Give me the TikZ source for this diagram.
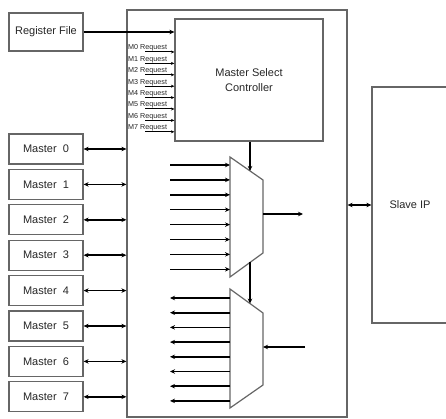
\documentclass[tikz,border=0pt]{standalone}
\usepackage{fontspec}
\setmainfont{Liberation Sans}
\usetikzlibrary{positioning,arrows.meta,calc}

\begin{document}
\begin{tikzpicture}[
    x=1pt, y=-1pt,
    font=\fontsize{11}{13}\selectfont,
    box/.style={draw, black!60, line width=1.2pt, text=black!85, align=center, inner sep=2pt},
    mbox/.style={box, minimum width=74pt, minimum height=30pt},
    bus/.style={{Stealth[length=5pt,width=4.5pt]}-{Stealth[length=5pt,width=4.5pt]}, line width=1.6pt},
    sig/.style={-{Stealth[length=5pt,width=4.5pt]}, line width=1.6pt},
    req/.style={-{Stealth[length=3.5pt,width=3pt]}, line width=1pt},
    mux/.style={draw, black!60, line width=1.2pt, fill=white},
    rq/.style={anchor=south west, inner sep=0.5pt, text=black!85,
               font=\fontsize{7.2}{8}\selectfont},
  ]
  \clip (0,0) rectangle (446,419);

  % --- Interconnect frame and slave ---
  \node[box, minimum width=220pt, minimum height=407pt] (fab) at (237,213.5) {};
  \node[box, minimum width=76pt, minimum height=236pt] (slave) at (410,205) {Slave IP};
  \draw[bus] (slave.west) -- (slave.west -| fab.east);

  % --- Register file and select controller ---
  \node[box, minimum width=74pt, minimum height=38pt] (reg) at (46,32) {Register File};
  \node[box, minimum width=148pt, minimum height=122pt] (ctrl) at (249,80)
    {Master Select\\[2pt]Controller};
  \draw[sig] (reg.east) -- (reg.east -| ctrl.west);

  \foreach \i in {0,...,7} {
    \coordinate (r\i) at (145,52+11.4*\i);
    \node[rq] (rl\i) at (127.5,52+11.4*\i) {M\i\ Request};
    \draw[req] (r\i) -- (r\i -| ctrl.west);
  }

  % --- Masters ---
  \foreach \i in {0,...,7} {
    \node[mbox] (m\i) at (46,149+35.4*\i) {Master\ \ \i};
    \draw[bus] (m\i.east) -- (m\i.east -| fab.west);
  }

  % --- Upper mux (master -> slave) ---
  \coordinate (ua) at (230,157); \coordinate (ub) at (263,180);
  \coordinate (uc) at (263,253); \coordinate (ud) at (230,277);
  \draw[mux] (ua) -- (ub) -- (uc) -- (ud) -- cycle;
  \foreach \i in {0,...,7} {
    \coordinate (ui\i) at (170,165+14.9*\i);
    \draw[sig] (ui\i) -- (ui\i -| ua);
  }
  \coordinate (usel) at ($(ua)!20/33!(ub)$);
  \draw[sig] (ctrl.south -| usel) -- (usel);
  \coordinate (uout) at (303,214);
  \draw[sig] (uout -| ub) -- (uout);

  % --- Lower mux (slave -> master) ---
  \coordinate (la) at (230,289); \coordinate (lb) at (263,313);
  \coordinate (lc) at (263,385); \coordinate (ld) at (230,408);
  \draw[mux] (la) -- (lb) -- (lc) -- (ld) -- cycle;
  \foreach \i in {0,...,7} {
    \coordinate (lo\i) at (170,298+14.7*\i);
    \draw[sig] (lo\i -| la) -- (lo\i);
  }
  \coordinate (ubot) at ($(ud)!20/33!(uc)$);
  \coordinate (lsel) at ($(la)!20/33!(lb)$);
  \draw[sig] (ubot) -- (lsel);
  \coordinate (lin) at (305,347);
  \draw[sig] (lin) -- (lin -| lb);
\end{tikzpicture}
\end{document}
